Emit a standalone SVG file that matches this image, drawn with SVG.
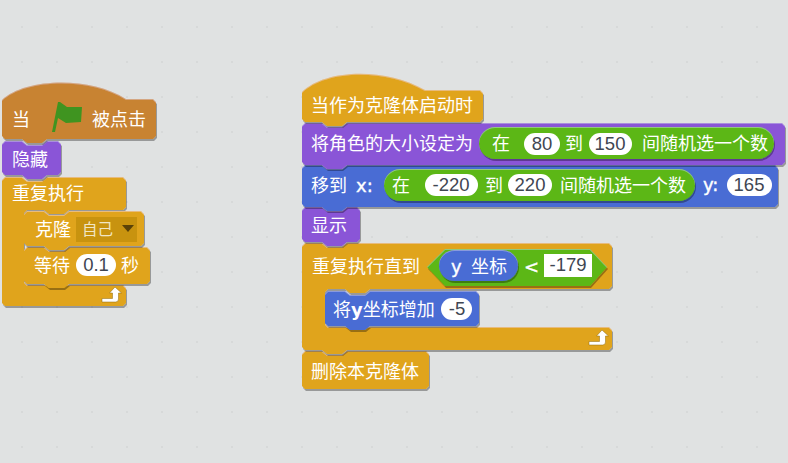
<svg xmlns="http://www.w3.org/2000/svg" width="788" height="463" viewBox="0 0 788 463">
<style>
.t{font-family:"Noto Sans CJK SC","Liberation Sans",sans-serif;font-size:18px;fill:#fff}
.v{font-family:"Liberation Sans","Noto Sans CJK SC",sans-serif;font-size:18.500px;fill:#3f4652;text-anchor:middle}
.l{font-family:"DejaVu Sans","Noto Sans CJK SC",sans-serif;font-size:18px;fill:#fff;stroke:#fff;stroke-width:.4}
.b{filter:url(#bevel)}
.ctl{fill:#e0a41c}.hat{fill:#c88330}.pur{fill:#8a55d7}.blu{fill:#4a6cd4}.grn{fill:#5cb712}
.pill{fill:#fff}
.arrow{fill:#fff;stroke:#8f6a0c;stroke-width:.5}
</style>
<defs>
<pattern id="dots" width="35" height="35" patternUnits="userSpaceOnUse" x="5" y="10"><rect x="16" y="16" width="2" height="2" fill="#d7d9d9"/></pattern>
<filter id="bevel" x="-5%" y="-10%" width="110%" height="125%">
<feOffset in="SourceAlpha" dx=".5" dy="1.500" result="o"/>
<feFlood flood-color="#000" flood-opacity=".32"/><feComposite in2="o" operator="in" result="s"/>
<feOffset in="SourceAlpha" dy="1" result="u"/>
<feFlood flood-color="#fff" flood-opacity=".2"/><feComposite in2="SourceAlpha" operator="in" result="w"/>
<feComposite in="w" in2="u" operator="out" result="h"/>
<feMerge><feMergeNode in="s"/><feMergeNode in="SourceGraphic"/><feMergeNode in="h"/></feMerge>
</filter>
<path id="loop" class="arrow" d="M0,11.500 H10.500 V6 H7.500 L13,0 L19.500,6 H16.500 V12 Q16.500,15 13.500,15 H0 Z"/>
</defs>
<rect width="788" height="463" fill="#e0e2e2"/>
<rect width="788" height="463" fill="url(#dots)"/>

<g id="connectors"></g>

<g id="stack-left">
<g id="repeat">
<path class="b ctl" d="M2,180 L5,177 H22 l5,4 h15 l5,-4 H123 l3,3 V207 l-3,3 H69 l-5,4 h-15 l-5,-4 H27 l-3,3 V282 l3,3 H123 l3,3 V303 l-3,3 H5 l-3,-3 Z"/>
<text class="t" x="12" y="200">重复执行</text>
<use href="#loop" x="102" y="287"/>
</g>
<g id="wait">
<path class="b ctl" d="M24,250 L27,247 H44 l5,4 h15 l5,-4 H147 l3,3 V281 l-3,3 H69 l-5,4 h-15 l-5,-4 H27 l-3,-3 Z"/>
<text class="t" x="34" y="272">等待</text>
<rect class="pill" x="76" y="254" width="40" height="22" rx="11"/>
<text class="v" x="96" y="271">0.1</text>
<text class="t" x="121" y="272">秒</text>
</g>
<g id="clone">
<path class="b ctl" d="M24,214 L27,211 H44 l5,4 h15 l5,-4 H141 l3,3 V243 l-3,3 H69 l-5,4 h-15 l-5,-4 H27 l-3,-3 Z"/>
<text class="t" x="35" y="236">克隆</text>
<rect x="76" y="217" width="61" height="25" fill="#c8930f"/>
<text class="t" x="82" y="235" style="font-size:15.500px;fill:#f1e6c4">自己</text>
<path d="M122,225 H134 L128,232 Z" fill="#5a4208"/>
</g>
<g id="hide">
<path class="b pur" d="M2,144 L5,141 H22 l5,4 h15 l5,-4 H58 l3,3 V172 l-3,3 H47 l-5,4 h-15 l-5,-4 H5 l-3,-3 Z"/>
<text class="t" x="12" y="166">隐藏</text>
</g>
<g id="hat-flag">
<path class="b hat" d="M2,100 C25,78 90,76 126,99 H153 l3,3 V136 l-3,3 H47 l-5,4 h-15 l-5,-4 H5 l-3,-3 Z"/>
<text class="t" x="12" y="126">当</text>
<path d="M52,132 L58,102 L60,102 L67,107 L82,107 L81,122 L66,123 L58,118 L55,132 Z" fill="#3f9420"/>
<text class="t" x="92" y="126">被点击</text>
</g>
</g>

<g id="stack-right">
<g id="delete">
<path class="b ctl" d="M302,354 L305,351 H322 l5,4 h15 l5,-4 H426 l3,3 V386 l-3,3 H305 l-3,-3 Z"/>
<text class="t" x="311" y="378">删除本克隆体</text>
</g>
<g id="repeat-until">
<path class="b ctl" d="M302,246 L305,243 H322 l5,4 h15 l5,-4 H609 l3,3 V286 l-3,3 H370 l-5,4 h-15 l-5,-4 H328 l-3,3 V324 l3,3 H609 l3,3 V347 l-3,3 H347 l-5,4 h-15 l-5,-4 H305 l-3,-3 Z"/>
<text class="t" x="312" y="273">重复执行直到</text>
<path id="cond" d="M427,267 L445,249 H590 L607,267 L590,286 H445 Z" fill="#5cb712" class="b"/>
<rect class="blu b" x="439" y="250" width="79" height="31" rx="15.500"/>
<text class="l" x="451" y="273">y</text>
<text class="t" x="471" y="273">坐标</text>
<text class="l" x="524" y="273">&lt;</text>
<rect class="pill" x="544" y="254" width="48" height="23"/>
<text class="v" x="568" y="271">-179</text>
<use href="#loop" x="589" y="330"/>
</g>
<g id="change-y">
<path class="b blu" d="M325,294 L328,291 H345 l5,4 h15 l5,-4 H476 l3,3 V323 l-3,3 H370 l-5,4 h-15 l-5,-4 H328 l-3,-3 Z"/>
<text class="t" x="333" y="316">将<tspan font-family="DejaVu Sans" font-weight="bold">y</tspan>坐标增加</text>
<rect class="pill" x="441" y="298" width="31" height="22" rx="11"/>
<text class="v" x="457" y="315">-5</text>
</g>
<g id="show">
<path class="b pur" d="M302,210 L305,207 H322 l5,4 h15 l5,-4 H357 l3,3 V239 l-3,3 H347 l-5,4 h-15 l-5,-4 H305 l-3,-3 Z"/>
<text class="t" x="311" y="232">显示</text>
</g>
<g id="goto">
<path class="b blu" d="M302,168 L305,165 H322 l5,4 h15 l5,-4 H775 l3,3 V204 l-3,3 H347 l-5,4 h-15 l-5,-4 H305 l-3,-3 Z"/>
<text class="t" x="311" y="192">移到</text>
<text class="l" x="356" y="192">x:</text>
<rect class="grn b" x="384" y="169" width="311" height="32" rx="16"/>
<text class="t" x="392" y="192">在</text>
<rect class="pill" x="425" y="174" width="53" height="22" rx="11"/>
<text class="v" x="451" y="191">-220</text>
<text class="t" x="485" y="192">到</text>
<rect class="pill" x="508" y="174" width="44" height="22" rx="11"/>
<text class="v" x="530" y="191">220</text>
<text class="t" x="560" y="192">间随机选一个数</text>
<text class="l" x="703" y="191">y:</text>
<rect class="pill" x="727" y="174" width="45" height="22" rx="11"/>
<text class="v" x="749" y="191">165</text>
</g>
<g id="set-size">
<path class="b pur" d="M302,126 L305,123 H322 l5,4 h15 l5,-4 H782 l3,3 V162 l-3,3 H347 l-5,4 h-15 l-5,-4 H305 l-3,-3 Z"/>
<text class="t" x="311" y="150">将角色的大小设定为</text>
<rect class="grn b" x="479" y="127" width="295" height="32" rx="16"/>
<text class="t" x="492" y="150">在</text>
<rect class="pill" x="524" y="133" width="36" height="22" rx="11"/>
<text class="v" x="542" y="150">80</text>
<text class="t" x="565" y="150">到</text>
<rect class="pill" x="589" y="133" width="43" height="22" rx="11"/>
<text class="v" x="610" y="150">150</text>
<text class="t" x="642" y="150">间随机选一个数</text>
</g>
<g id="hat-clone">
<path class="b ctl" d="M302,92 C325,69 385,67 425,90 H480 l3,3 V119 l-3,3 H347 l-5,4 h-15 l-5,-4 H305 l-3,-3 Z"/>
<text class="t" x="311" y="112">当作为克隆体启动时</text>
</g>
</g>
</svg>
